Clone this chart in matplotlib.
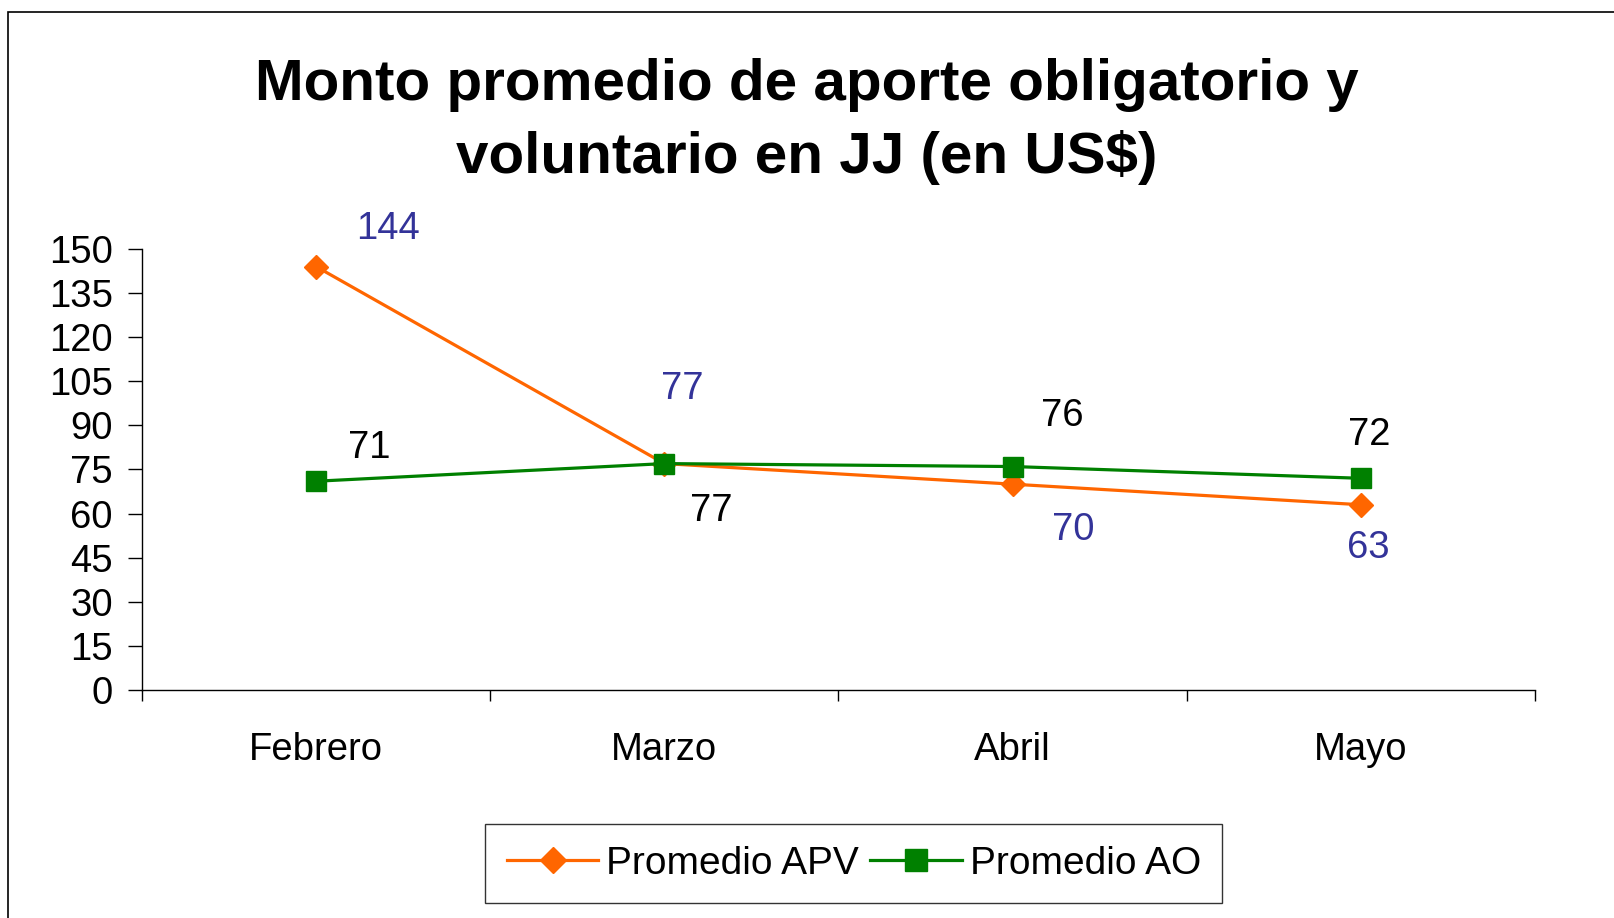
import numpy as np
import matplotlib.pyplot as plt
from matplotlib.patches import Rectangle

plt.rcParams['font.family'] = ['Liberation Sans', 'DejaVu Sans']

# Data
meses = ['Febrero', 'Marzo', 'Abril', 'Mayo']
promedio_apv = [144, 77, 70, 63]
promedio_ao = [71, 77, 76, 72]
yticks = np.arange(0, 151, 15)

# label offsets (pixels) for each point
off_apv = [(72, 38), (18, 75), (61, -46), (8, -43)]
off_ao = [(53, 33), (47, -47), (50, 51), (8, 43)]

fig = plt.figure(figsize=(16.14, 9.18), dpi=100)
ax = fig.add_axes([0.088, 0.2484, 0.863, 0.4804])

x = np.arange(len(meses))
ax.plot(x, promedio_apv, color='#FF6600', lw=2.3, marker='D', ms=12,
        label='Promedio APV', zorder=3)
ax.plot(x, promedio_ao, color='#008000', lw=2.3, marker='s', ms=15,
        label='Promedio AO', zorder=4)

for i in range(len(meses)):
    ax.annotate(str(promedio_apv[i]), (x[i], promedio_apv[i]), xytext=off_apv[i],
                textcoords='offset pixels', ha='center', va='center',
                fontsize=27.5, color='#333399')
    ax.annotate(str(promedio_ao[i]), (x[i], promedio_ao[i]), xytext=off_ao[i],
                textcoords='offset pixels', ha='center', va='center',
                fontsize=27.5, color='black')

ax.set_xlim(-0.5, 3.5)
ax.set_ylim(0, 150)
ax.set_yticks(yticks)
ax.tick_params(axis='y', labelsize=27.5, length=10, width=1, direction='out', pad=11)
ax.set_xticks(x)
ax.set_xticklabels(meses, fontsize=27.5)
ax.set_xticks(np.arange(-0.5, 4, 1), minor=True)
ax.tick_params(axis='x', which='major', length=0, pad=30)
ax.tick_params(axis='x', which='minor', length=8, width=1, direction='out')
for s in ['top', 'right']:
    ax.spines[s].set_visible(False)
for s in ['left', 'bottom']:
    ax.spines[s].set_linewidth(1)

fig.suptitle('Monto promedio de aporte obligatorio y\nvoluntario en JJ (en US$)',
             x=0.5, y=0.937, fontsize=42, fontweight='bold', linespacing=1.43)

leg = fig.legend(loc='center', bbox_to_anchor=(0.529, 0.059), ncol=2, fontsize=28,
                 frameon=True, fancybox=False, edgecolor='black',
                 handlelength=2.35, handletextpad=0.2, columnspacing=0.3,
                 borderpad=0.55, markerscale=1.1)
leg.get_frame().set_linewidth(1)

# outer chart border
fig.patches.append(Rectangle((8 / 1614, -0.05), 1.2, 0.05 + 1 - 12 / 918,
                             transform=fig.transFigure, fill=False,
                             edgecolor='black', lw=1.2))

plt.savefig('out.png', dpi=100)
